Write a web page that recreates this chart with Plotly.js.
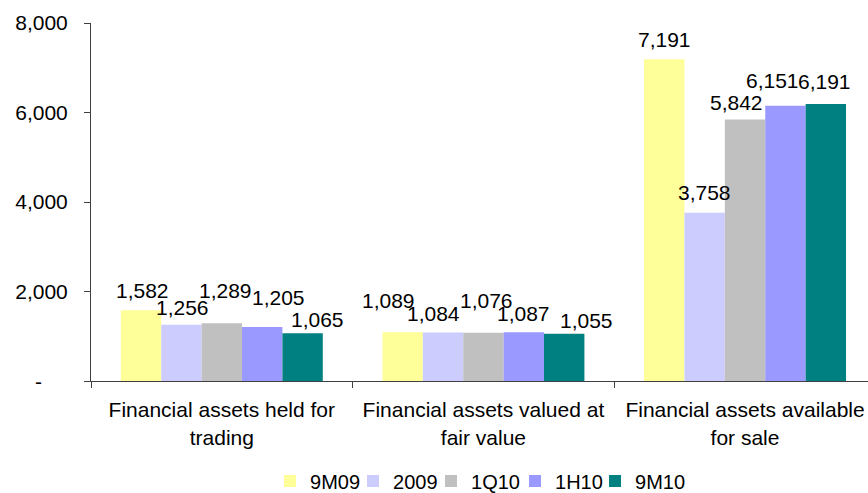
<!DOCTYPE html>
<html>
<head>
<meta charset="utf-8">
<script src="https://cdn.plot.ly/plotly-3.0.1.min.js"></script>
<style>
html,body{margin:0;padding:0;background:#fff;}
#chart{width:868px;height:493px;}
</style>
</head>
<body>
<div id="chart"></div>
<script>
const categories = ["Financial assets held for<br>trading", "Financial assets valued at<br>fair value", "Financial assets available<br>for sale"];
const seriesNames = ["9M09", "2009", "1Q10", "1H10", "9M10"];
const v9M09 = [1582, 1089, 7191];
const v2009 = [1256, 1084, 3758];
const v1Q10 = [1289, 1076, 5842];
const v1H10 = [1205, 1087, 6151];
const v9M10 = [1065, 1055, 6191];
const seriesValues = [v9M09, v2009, v1Q10, v1H10, v9M10];
const colors = ["#FFFF99", "#CCCCFF", "#C0C0C0", "#9999FF", "#008080"];
const yTickVals = [0, 2000, 4000, 6000, 8000];
const yTickText = ["", "2,000", "4,000", "6,000", "8,000"];
const zeroLabel = "-";
const legendWidths = [38, 33, 39, 35, 60];

// manual nudges of the data labels (pixels), as in the original chart
const labelDx = [[1.5, -14, 0], [1.5, -10, 0], [4, 3, -9], [16, 0, -13], [15, 22.5, -1.5]];
const labelDy = [[6, 18.5, 6.5], [4, 5.5, 6.5], [19, 19, 3.5], [16, 5, 11.5], [0, 0, 9]];

const font = "Liberation Sans, Arial, sans-serif";
const BARGAP = 0.228;
const nSeries = seriesNames.length;
const barW = (1 - BARGAP) / nSeries;

const traces = seriesNames.map((name, i) => ({
  type: "bar",
  name: name,
  x: categories,
  y: seriesValues[i],
  marker: {color: colors[i], line: {width: 0}},
  legendwidth: legendWidths[i],
  hoverinfo: "none"
}));

// data labels placed over each bar centre (category index + group offset)
const annotations = [];
seriesValues.forEach((vals, i) => {
  vals.forEach((v, c) => {
    annotations.push({
      x: c + (i - (nSeries - 1) / 2) * barW,
      y: v,
      xref: "x",
      yref: "y",
      text: v.toLocaleString("en-US"),
      showarrow: false,
      xanchor: "center",
      yanchor: "bottom",
      xshift: labelDx[i][c],
      yshift: labelDy[i][c],
      font: {family: font, size: 21, color: "#000"}
    });
  });
});
annotations.push({
  x: 0, xref: "paper", y: 0, yref: "y",
  text: zeroLabel, showarrow: false,
  xanchor: "right", yanchor: "middle", xshift: -47,
  font: {family: font, size: 21, color: "#000"}
});

const layout = {
  width: 868,
  height: 493,
  margin: {l: 91, r: 0, t: 23, b: 112, autoexpand: false},
  paper_bgcolor: "#fff",
  plot_bgcolor: "#fff",
  barmode: "group",
  bargap: BARGAP,
  bargroupgap: 0,
  font: {family: font, size: 21, color: "#000"},
  annotations: annotations,
  xaxis: {
    type: "category",
    range: [-0.5, 2.47],
    showline: true,
    linecolor: "#404040",
    linewidth: 1,
    ticks: "outside",
    tickson: "boundaries",
    ticklen: 6,
    tickcolor: "#404040",
    ticklabelstandoff: 10,
    showgrid: false,
    zeroline: false,
    automargin: false,
    tickfont: {family: font, size: 21, color: "#000"}
  },
  yaxis: {
    range: [0, 8000],
    showline: true,
    linecolor: "#404040",
    linewidth: 1,
    ticks: "outside",
    ticklen: 6,
    tickcolor: "#404040",
    tickvals: yTickVals,
    ticktext: yTickText,
    ticklabelstandoff: 12,
    showgrid: false,
    zeroline: false,
    automargin: false,
    tickfont: {family: font, size: 21, color: "#000"}
  },
  showlegend: true,
  legend: {
    orientation: "h",
    x: 0.2304,
    xanchor: "left",
    y: -0.279,
    yanchor: "middle",
    font: {family: font, size: 20, color: "#000"},
    itemclick: false
  }
};

Plotly.newPlot("chart", traces, layout, {displayModeBar: false, staticPlot: true});
</script>
</body>
</html>
